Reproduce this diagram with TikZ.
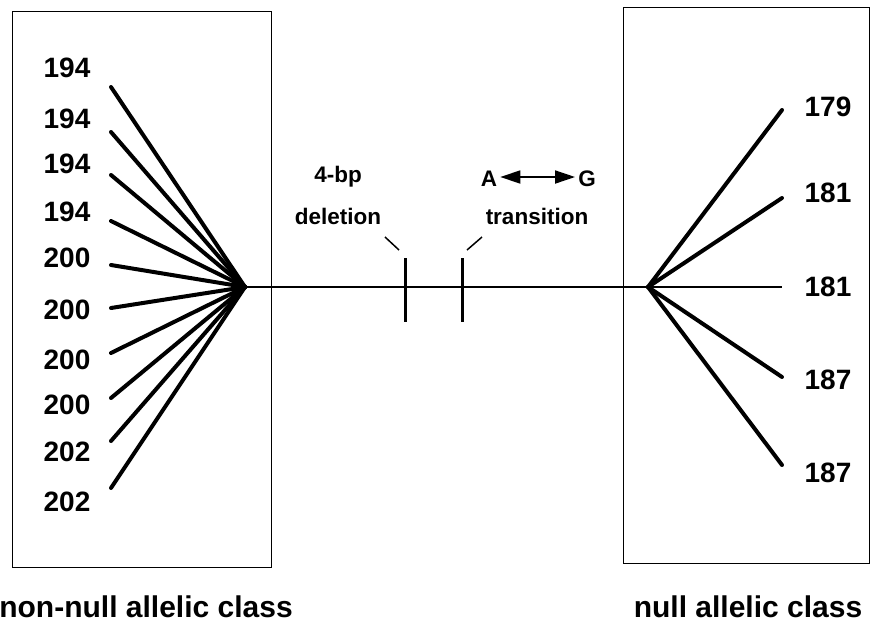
\documentclass[tikz,border=0pt]{standalone}
\usepackage{fontspec}
\setmainfont{Liberation Sans}
\usetikzlibrary{arrows.meta}
\begin{document}
\begin{tikzpicture}[x=1pt,y=-1pt,
  num/.style={font=\bfseries\fontsize{28}{30}\selectfont, inner sep=0pt},
  lab/.style={font=\bfseries\fontsize{22.5}{24}\selectfont, inner sep=0pt, anchor=base},
  cls/.style={font=\bfseries\fontsize{30}{32}\selectfont, inner sep=0pt, anchor=base},
  frame/.style={draw, line width=1.4pt, inner sep=0pt, anchor=north west},
  fan/.style={line width=4pt, line cap=round},
  axis/.style={line width=2.4pt},
  tick/.style={line width=3pt},
  leader/.style={line width=1.5pt},
  dbl/.style={line width=1.8pt, {Triangle[length=20pt,width=13pt]}-{Triangle[length=20pt,width=13pt]}}]
\useasboundingbox (0,0) rectangle (871,625);
% boxes
\node[frame, minimum width=259pt, minimum height=556pt] (lbox) at (12,11) {};
\node[frame, minimum width=246pt, minimum height=556pt] (rbox) at (623,7) {};
% fan points
\coordinate (lf) at (245,287);
\coordinate (rf) at (648,287);
% left fan ends
\foreach \i/\y in {1/87,2/132,3/175,4/221,5/265,6/308,7/353,8/398,9/441,10/488}{
  \coordinate (l\i) at (111,\y);
  \draw[fan] (lf) -- (l\i);
}
% left labels
\foreach \i/\y/\t in {1/68/194,2/119/194,3/164/194,4/212/194,5/258/200,6/310/200,7/360/200,8/405/200,9/452/202,10/502/202}{
  \node[num] (ln\i) at (67,\y) {\t};
}
% right fan ends
\foreach \i/\y in {1/110,2/198,4/377,5/465}{
  \coordinate (r\i) at (782,\y);
  \draw[fan] (rf) -- (r\i);
}
\coordinate (r3) at (782,287);
\draw[axis] (rf) -- (r3);
% right labels
\foreach \i/\y/\t in {1/107/179,2/193/181,3/287/181,4/380/187,5/473/187}{
  \node[num] (rn\i) at (828,\y) {\t};
}
% main axis
\draw[axis] (lf) -- (rf);
% ticks
\coordinate (t1a) at (405,258); \coordinate (t1b) at (405,322);
\coordinate (t2a) at (462,258); \coordinate (t2b) at (462,322);
\draw[tick] (t1a) -- (t1b);
\draw[tick] (t2a) -- (t2b);
% leaders
\coordinate (d1) at (385,237); \coordinate (d2) at (399,250);
\coordinate (g1) at (482,237); \coordinate (g2) at (467,250);
\draw[leader] (d1) -- (d2);
\draw[leader] (g1) -- (g2);
% labels
\node[lab] (bp) at (338,182) {4-bp};
\node[lab] (del) at (338,224) {deletion};
\node[lab] (A) at (489,186) {A};
\node[lab] (G) at (587,186) {G};
\node[lab] (tr) at (537,224) {transition};
\draw[dbl] ([xshift=3pt]A.east |- 0,177) coordinate (ae) -- ([xshift=-3pt]G.west |- 0,177) coordinate (ge);
% class labels
\node[cls] (nn) at (146,617) {non-null allelic class};
\node[cls] (nl) at (748,617) {null allelic class};
\end{tikzpicture}
\end{document}
